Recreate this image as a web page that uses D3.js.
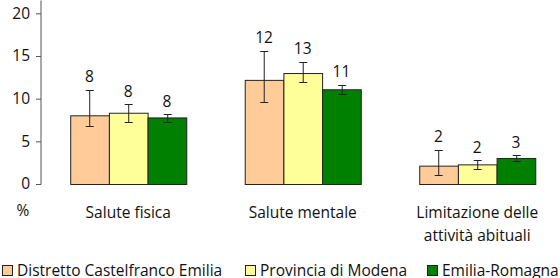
<!DOCTYPE html>
<html>
<head>
<meta charset="utf-8">
<script src="https://cdn.jsdelivr.net/npm/d3@7"></script>
<style>
  body { margin: 0; background: #fff; }
  svg text { font-family: "Open Sans", sans-serif; fill: #111; }
</style>
</head>
<body>
<svg id="chart" width="560" height="278"></svg>
<script>
// Data
const categories = ["Salute fisica", "Salute mentale", "Limitazione delle\nattività abituali"];
const seriesNames = ["Distretto Castelfranco Emilia", "Provincia di Modena", "Emilia-Romagna"];
const seriesColors = ["#FFCC99", "#FFFF99", "#008000"];

// values per series, one per category
const castelfranco = [8.05, 12.2, 2.15];
const modena = [8.35, 13.0, 2.3];
const emiliaRomagna = [7.8, 11.1, 3.05];

// confidence interval bounds
const castelfrancoLow = [6.8, 9.6, 1.1], castelfrancoHigh = [11.05, 15.6, 4.0];
const modenaLow = [7.3, 11.9, 1.75], modenaHigh = [9.35, 14.3, 2.8];
const emiliaRomagnaLow = [7.3, 10.55, 2.75], emiliaRomagnaHigh = [8.15, 11.6, 3.35];

// rounded labels shown on the bars
const castelfrancoLabels = ["8", "12", "2"];
const modenaLabels = ["8", "13", "2"];
const emiliaRomagnaLabels = ["8", "11", "3"];

const yTicks = [0, 5, 10, 15, 20];

const series = [
    { name: seriesNames[0], color: seriesColors[0], values: castelfranco, low: castelfrancoLow, high: castelfrancoHigh, labels: castelfrancoLabels },
    { name: seriesNames[1], color: seriesColors[1], values: modena, low: modenaLow, high: modenaHigh, labels: modenaLabels },
    { name: seriesNames[2], color: seriesColors[2], values: emiliaRomagna, low: emiliaRomagnaLow, high: emiliaRomagnaHigh, labels: emiliaRomagnaLabels }
];

const svg = d3.select("#chart");
const axisX = 41, baseY = 184, fontSize = "15.5px";

// Scales
const y = d3.scaleLinear().domain([0, 21.56]).range([baseY, 0]);
const x0 = d3.scaleBand().domain(categories).range([axisX, 564.5]).paddingInner(0.335).paddingOuter(0.1675);
const x1 = d3.scaleBand().domain(seriesNames).range([0, x0.bandwidth()]);

// Y axis
const yAxis = d3.axisLeft(y).tickValues(yTicks).tickSize(5).tickPadding(6);
const gy = svg.append("g").attr("transform", `translate(${axisX},0)`).call(yAxis);
gy.select(".domain").attr("d", `M-0.5,0V${baseY}H-5`).attr("stroke", "#555").attr("transform", "translate(0.5,0.5)");
gy.selectAll(".tick line").attr("stroke", "#555");
gy.selectAll(".tick text").style("font-size", fontSize).attr("fill", "#111");
gy.attr("font-family", null);

svg.append("text").attr("x", 23).attr("y", 211).attr("dy", "0.35em")
    .attr("text-anchor", "middle").style("font-size", fontSize).text("%");

// Bars
const groups = svg.selectAll("g.cat")
    .data(categories)
    .enter().append("g")
    .attr("class", "cat")
    .attr("transform", d => `translate(${x0(d)},0)`);

series.forEach(function (s) {
    groups.append("rect")
        .attr("x", d => x1(s.name) + 0.5)
        .attr("y", (d, i) => y(s.values[i]) + 0.5)
        .attr("width", x1.bandwidth())
        .attr("height", (d, i) => baseY - y(s.values[i]))
        .attr("fill", s.color)
        .attr("stroke", "#222")
        .attr("stroke-width", 1);

    // Error bars
    const cx = x1(s.name) + x1.bandwidth() / 2;
    groups.append("path")
        .attr("d", (d, i) => {
            const hi = Math.round(y(s.high[i])) + 0.5, lo = Math.round(y(s.low[i])) + 0.5;
            const c = Math.round(cx) + 0.5;
            return `M${c},${hi}V${lo}M${c - 4},${hi}H${c + 4}M${c - 4},${lo}H${c + 4}`;
        })
        .attr("stroke", "#222")
        .attr("fill", "none");

    // Value labels
    groups.append("text")
        .attr("x", cx)
        .attr("y", (d, i) => y(s.high[i]) - 13)
        .attr("dy", "0.35em")
        .attr("text-anchor", "middle")
        .style("font-size", fontSize)
        .text((d, i) => s.labels[i]);
});

// Category labels
groups.append("text")
    .attr("x", x0.bandwidth() / 2)
    .attr("y", 213)
    .attr("text-anchor", "middle")
    .style("font-size", fontSize)
    .selectAll("tspan")
    .data(d => d.split("\n"))
    .enter().append("tspan")
    .attr("x", x0.bandwidth() / 2)
    .attr("dy", (d, i) => i === 0 ? "0.35em" : "23px")
    .text(d => d);

// Legend
const legendX = [2, 245, 427];
const legend = svg.selectAll("g.legend")
    .data(series)
    .enter().append("g")
    .attr("class", "legend")
    .attr("transform", (d, i) => `translate(${legendX[i]},265)`);

legend.append("rect")
    .attr("x", 0.5).attr("y", 0.5)
    .attr("width", 10).attr("height", 10)
    .attr("fill", d => d.color)
    .attr("stroke", "#222");

legend.append("text")
    .attr("x", 15).attr("y", 5.5)
    .attr("dy", "0.35em")
    .style("font-size", fontSize)
    .text(d => d.name);
</script>
</body>
</html>
